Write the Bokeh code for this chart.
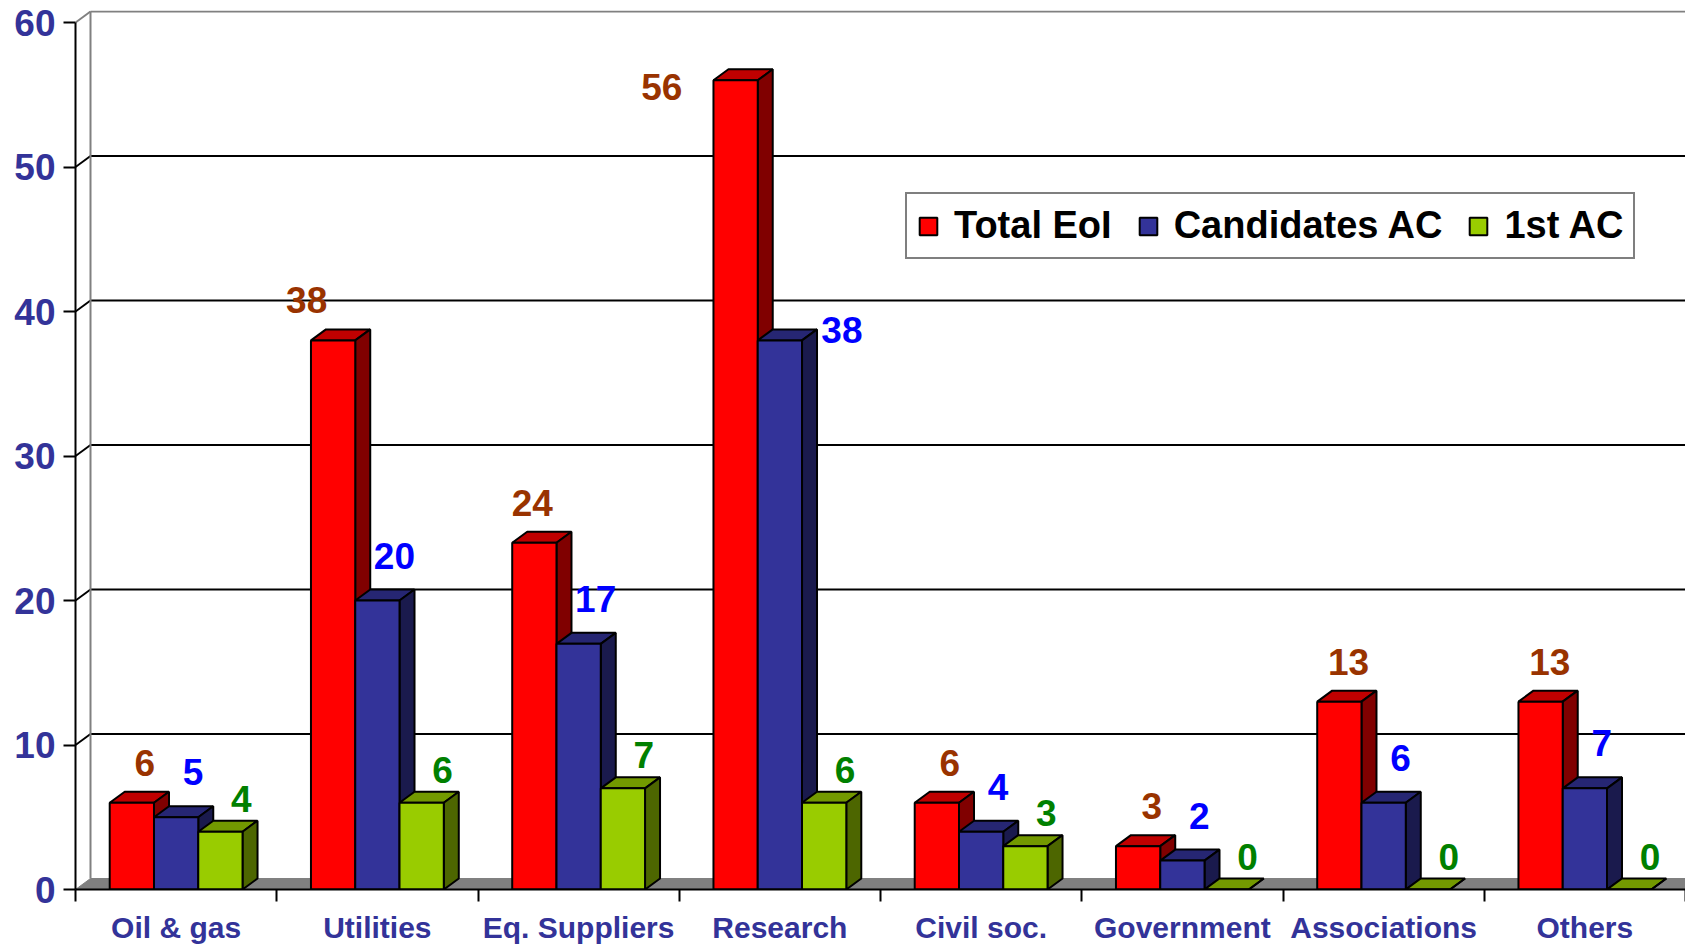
from bokeh.plotting import figure
from bokeh.models import FixedTicker, Legend, LegendItem, ColumnDataSource, Range1d
from bokeh.embed import file_html
from bokeh.resources import INLINE
from bokeh.core.properties import value

# ---- data ----
categories = ["Oil & gas", "Utilities", "Eq. Suppliers", "Research",
              "Civil soc.", "Government", "Associations", "Others"]
total_eoi = [6, 38, 24, 56, 6, 3, 13, 13]
candidates_ac = [5, 20, 17, 38, 4, 2, 6, 7]
first_ac = [4, 6, 7, 6, 3, 0, 0, 0]
series_names = ["Total EoI", "Candidates AC", "1st AC"]
y_ticks = [0, 10, 20, 30, 40, 50, 60]

# ---- geometry / style ----
FONT = "Liberation Sans"
N = len(categories)
FRAME_W, FRAME_H = 1610, 879
PX_X = FRAME_W / N
PX_Y = 867 / 60.0
Y_END = FRAME_H / PX_Y
DX = 15 / PX_X
DY = 11 / PX_Y
BAR_W = 0.22
OFFS = [-0.33, -0.11, 0.11]

front_cols = ["#FF0000", "#333399", "#99CC00"]
top_cols = ["#C00000", "#262673", "#739900"]
side_cols = ["#800000", "#1A1A4D", "#4D6600"]
label_cols = ["#993300", "#0000FF", "#008000"]

p = figure(frame_width=FRAME_W, frame_height=FRAME_H,
           x_range=Range1d(0, N), y_range=Range1d(0, Y_END),
           output_backend="svg", toolbar_location=None,
           min_border_left=75, min_border_right=0,
           min_border_top=10, min_border_bottom=50)
p.outline_line_color = None
p.xgrid.visible = False
p.ygrid.visible = False

# ---- back wall and gridlines ----
grid_y = y_ticks[1:]
p.segment(x0=[0] * len(grid_y), y0=grid_y,
          x1=[DX] * len(grid_y), y1=[g + DY for g in grid_y],
          line_color=["black"] * (len(grid_y) - 1) + ["#808080"], line_width=2)
p.segment(x0=[DX] * len(grid_y), y0=[g + DY for g in grid_y],
          x1=[N + 1] * len(grid_y), y1=[g + DY for g in grid_y],
          line_color=["black"] * (len(grid_y) - 1) + ["#808080"], line_width=2)
p.segment(x0=[DX], y0=[DY], x1=[DX], y1=[y_ticks[-1] + DY],
          line_color="#808080", line_width=2)

# floor
p.patch([0, N + 1, N + 1 + DX, DX], [0, 0, DY, DY],
        fill_color="#808080", line_color="#808080", line_width=1)

# ---- bars ----
all_vals = [total_eoi, candidates_ac, first_ac]
renderers = []
for s, vals in enumerate(all_vals):
    lefts = [i + 0.5 + OFFS[s] for i in range(N)]
    rights = [l + BAR_W for l in lefts]
    p.patches(xs=[[l, r, r + DX, l + DX] for l, r in zip(lefts, rights)],
              ys=[[h, h, h + DY, h + DY] for h in vals],
              fill_color=top_cols[s], line_color="black", line_width=2)
    p.patches(xs=[[r, r + DX, r + DX, r] for r in rights],
              ys=[[0, DY, h + DY, h] for h in vals],
              fill_color=side_cols[s], line_color="black", line_width=2)
    r = p.quad(left=lefts, right=rights, bottom=[0] * N, top=vals,
               fill_color=front_cols[s], line_color="black", line_width=2)
    renderers.append(r)

# ---- data labels ----
def label_offsets(s, h):
    if s == 0:
        dx = 14 - 0.028 * h * h
        up = 40 - max(0, h - 40) * 2.9
    elif s == 1:
        dx = 17 + max(0, h - 20) * 2.5
        up = 45 - max(0, h - 20) * 1.9
    else:
        dx = 21
        up = 33
    return dx, -up

for s, vals in enumerate(all_vals):
    xs = [i + 0.5 + OFFS[s] + BAR_W / 2 for i in range(N)]
    offs = [label_offsets(s, h) for h in vals]
    src = ColumnDataSource(dict(x=xs, y=vals, t=[str(v) for v in vals],
                                xo=[o[0] for o in offs], yo=[o[1] for o in offs]))
    p.text(x="x", y="y", text="t", x_offset="xo", y_offset="yo", source=src,
           text_font=value(FONT), text_font_style="bold", text_font_size="37px",
           text_color=label_cols[s], text_align="center", text_baseline="middle")

# ---- axes ----
ya = p.yaxis[0]
ya.ticker = FixedTicker(ticks=y_ticks, minor_ticks=[])
ya.bounds = (0, 60)
ya.axis_line_color = "black"
ya.axis_line_width = 2
ya.major_tick_out = 12
ya.major_tick_in = 0
ya.minor_tick_out = 0
ya.minor_tick_in = 0
ya.major_tick_line_width = 2
ya.major_label_standoff = 8
ya.major_label_text_font = FONT
ya.major_label_text_font_style = "bold"
ya.major_label_text_font_size = "37px"
ya.major_label_text_color = "#333399"

centers = [i + 0.5 for i in range(N)]
xa = p.xaxis[0]
xa.ticker = FixedTicker(ticks=centers, minor_ticks=list(range(N + 1)))
xa.major_label_overrides = {c: cat for c, cat in zip(centers, categories)}
xa.axis_line_color = "black"
xa.axis_line_width = 2
xa.major_tick_out = 0
xa.major_tick_in = 0
xa.minor_tick_out = 12
xa.minor_tick_in = 0
xa.minor_tick_line_color = "black"
xa.minor_tick_line_width = 2
xa.major_label_standoff = 9
xa.major_label_text_font = FONT
xa.major_label_text_font_style = "bold"
xa.major_label_text_font_size = "30px"
xa.major_label_text_color = "#333399"

# ---- legend ----
legend = Legend(items=[LegendItem(label=n, renderers=[r]) for n, r in zip(series_names, renderers)],
                orientation="horizontal", location=(830, 630),
                glyph_width=22, glyph_height=22, label_standoff=15, spacing=25,
                padding=10, margin=0,
                label_text_font=FONT, label_text_font_style="bold",
                label_text_font_size="38px", label_text_color="black",
                border_line_color="black", border_line_width=2,
                background_fill_color="white", background_fill_alpha=1.0)
p.add_layout(legend, "center")

open("out.html", "w").write(file_html(p, INLINE))
